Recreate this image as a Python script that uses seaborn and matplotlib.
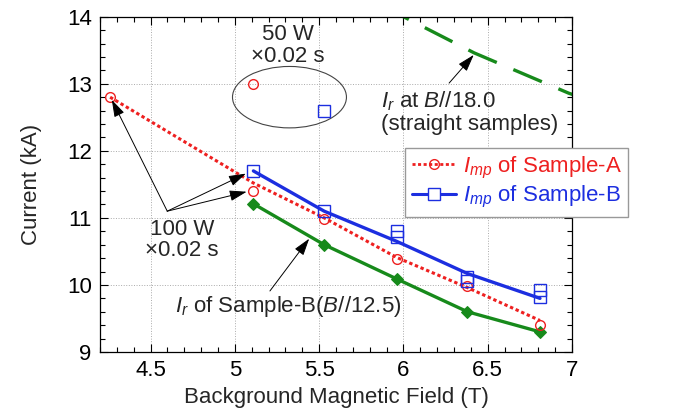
import matplotlib
matplotlib.use("Agg")
import matplotlib.pyplot as plt
from matplotlib.patches import Ellipse
from matplotlib.lines import Line2D
from matplotlib.ticker import MultipleLocator
import seaborn as sns

# I_mp of Sample-A (100 W x 0.02 s), measured and fitted
field_a = [4.26, 5.11, 5.53, 5.96, 6.38, 6.81]
imp_a = [12.81, 11.40, 10.99, 10.39, 9.99, 9.40]
fit_a = [12.80, 11.52, 11.00, 10.41, 9.96, 9.47]

# I_mp of Sample-B (two shots at some fields), measured and fitted
field_b = [5.11, 5.53, 5.96, 5.96, 6.38, 6.38, 6.81, 6.81]
imp_b = [11.70, 11.11, 10.80, 10.71, 10.12, 10.06, 9.92, 9.82]
fit_field_b = [5.11, 5.53, 5.96, 6.38, 6.81]
fit_b = [11.70, 11.10, 10.65, 10.17, 9.80]

# I_r of Sample-B (B//12.5)
field_r = [5.11, 5.53, 5.96, 6.38, 6.81]
ir_b = [11.21, 10.60, 10.09, 9.60, 9.30]

# I_r at B//18.0 (straight samples)
field_s = [5.90, 6.00, 6.42, 6.98, 7.05]
ir_s = [14.13, 14.00, 13.46, 12.86, 12.80]

# 50 W x 0.02 s shots
field_50a = [5.11]
imp_50a = [12.99]
field_50b = [5.53]
imp_50b = [12.60]

xticks = [4.5, 5, 5.5, 6, 6.5, 7]
xticklabels = ["4.5", "5", "5.5", "6", "6.5", "7"]
yticks = [9, 10, 11, 12, 13, 14]

red = "#ee2020"
blue = "#1c2ee0"
green = "#178a1b"

sns.set_style("ticks", {"xtick.direction": "in", "ytick.direction": "in"})
plt.rcParams["font.family"] = ["Liberation Sans", "DejaVu Sans"]
plt.rcParams["mathtext.fontset"] = "custom"
plt.rcParams["mathtext.rm"] = "Liberation Sans"
plt.rcParams["mathtext.it"] = "Liberation Sans:italic"

fig = plt.figure(figsize=(6.73, 4.08), dpi=100)
ax = fig.add_axes([100 / 673, 56 / 408, 472 / 673, 335.3 / 408])

# lines
sns.lineplot(x=field_a, y=fit_a, ax=ax, color=red, lw=2.2, ls=(0, (1.1, 0.9)),
             estimator=None, sort=False)
sns.lineplot(x=fit_field_b, y=fit_b, ax=ax, color=blue, lw=2.4,
             estimator=None, sort=False)
sns.lineplot(x=field_r, y=ir_b, ax=ax, color=green, lw=2.4, marker="D", ms=6,
             mec=green, mfc=green, estimator=None, sort=False)
sns.lineplot(x=field_s, y=ir_s, ax=ax, color=green, lw=2.4, ls=(1.8, (9.3, 5.4)),
             estimator=None, sort=False)

# markers
sns.lineplot(x=field_a, y=imp_a, ax=ax, ls="", marker="o", ms=7, mfc="none",
             mec=red, mew=1.0, estimator=None, sort=False)
sns.lineplot(x=field_b, y=imp_b, ax=ax, ls="", marker="s", ms=8.5, mfc="none",
             mec=blue, mew=1.0, estimator=None, sort=False)
sns.lineplot(x=field_50a, y=imp_50a, ax=ax, ls="", marker="o", ms=7, mfc="none",
             mec=red, mew=1.0, estimator=None, sort=False)
sns.lineplot(x=field_50b, y=imp_50b, ax=ax, ls="", marker="s", ms=8.5, mfc="none",
             mec=blue, mew=1.0, estimator=None, sort=False)

ax.add_patch(Ellipse((5.324, 12.80), 0.676, 0.916, fill=False, ec="#444444", lw=0.8))

# annotations
fs = 16
arrow = dict(arrowstyle="-|>,head_length=0.7,head_width=0.22", color="black",
             lw=0.7, shrinkA=0, shrinkB=0, mutation_scale=15)
ax.text(5.314, 13.57, "50 W\n×0.02 s", ha="center", va="center", fontsize=fs,
        linespacing=1.05)
ax.text(4.686, 10.665, "100 W\n×0.02 s", ha="center", va="center", fontsize=fs,
        linespacing=1.0)
for tip in [(4.27, 12.76), (5.065, 11.66), (5.07, 11.39)]:
    ax.annotate("", xy=tip, xytext=(4.599, 11.10), arrowprops=arrow)
ax.text(4.645, 9.685, "$I_r$ of Sample-B($B$//12.5)", ha="left", va="center",
        fontsize=fs)
ax.annotate("", xy=(5.441, 10.69), xytext=(5.208, 9.91), arrowprops=arrow)
ax.text(5.869, 12.574, "$I_r$ at $B$//18.0\n(straight samples)", ha="left",
        va="center", fontsize=fs, linespacing=1.05)
ax.annotate("", xy=(6.417, 13.43), xytext=(6.271, 13.01), arrowprops=arrow)

# axes
ax.set_xlim(4.2, 7)
ax.set_ylim(9, 14)
ax.set_xticks(xticks)
ax.set_xticklabels(xticklabels)
ax.set_yticks(yticks)
ax.xaxis.set_minor_locator(MultipleLocator(0.1))
ax.yaxis.set_minor_locator(MultipleLocator(0.2))
ax.tick_params(which="both", direction="in", top=True, right=True, width=0.8,
               labelsize=fs, colors="black")
ax.tick_params(which="major", length=6, pad=6)
ax.tick_params(which="minor", length=3.5)
ax.grid(True, which="major", ls=":", color="#aaaaaa", lw=0.7)
for sp in ax.spines.values():
    sp.set_color("black")
    sp.set_linewidth(0.9)
ax.set_xlabel("Background Magnetic Field (T)", fontsize=fs, labelpad=4)
ax.set_ylabel("Current (kA)", fontsize=fs, labelpad=18)

# legend
handles = [
    Line2D([], [], color=red, lw=2.0, ls=(0, (1.1, 0.9)), marker="o", ms=7,
           mfc="none", mec=red, mew=1.0),
    Line2D([], [], color=blue, lw=2.2, marker="s", ms=8.5, mfc="white",
           mec=blue, mew=1.0),
]
labels = ["$I_{mp}$ of Sample-A", "$I_{mp}$ of Sample-B"]
leg = ax.legend(handles, labels, loc="upper left",
                bbox_to_anchor=(405 / 673, 1 - 148 / 408),
                bbox_transform=fig.transFigure, borderaxespad=0, frameon=True,
                fancybox=False, edgecolor="#999999", framealpha=1, fontsize=fs,
                handlelength=2.0, handletextpad=0.3, labelspacing=0.15,
                borderpad=0.3)
leg.get_frame().set_linewidth(1.0)
for txt, c in zip(leg.get_texts(), [red, blue]):
    txt.set_color(c)

fig.savefig("out.png", dpi=100)
